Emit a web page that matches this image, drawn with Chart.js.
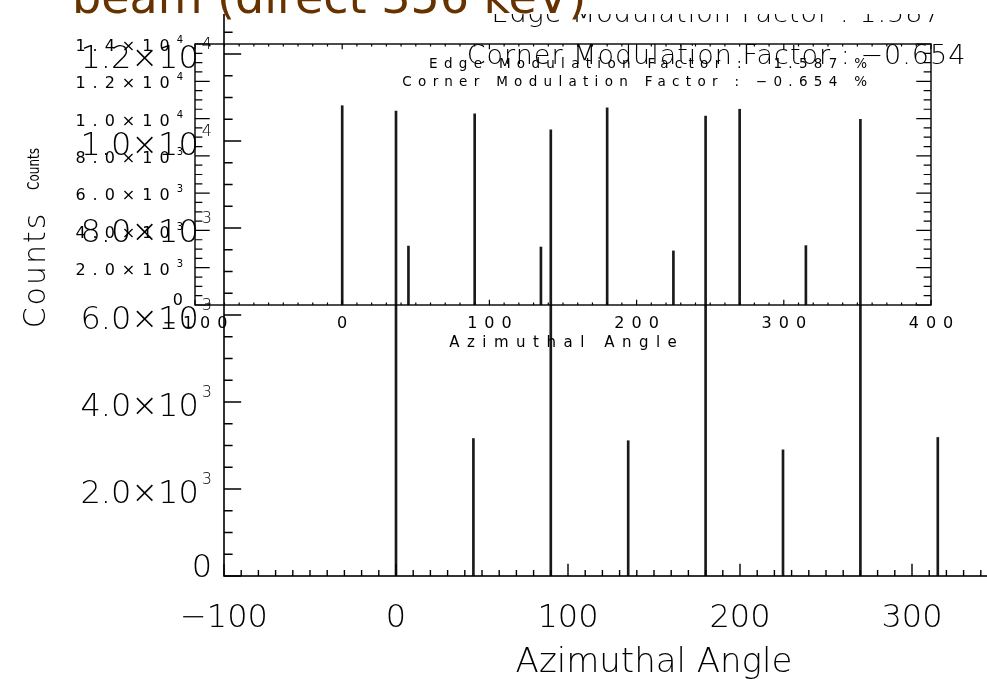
<!DOCTYPE html>
<html>
<head>
<meta charset="utf-8">
<script src="https://cdn.jsdelivr.net/npm/chart.js@4.4.0/dist/chart.umd.min.js"></script>
<style>
  html, body { margin: 0; padding: 0; background: #fff; }
  #page { position: relative; width: 987px; height: 679px; overflow: hidden; background: #fff; }
  #mainChart { position: absolute; left: 0; top: -100px; }
  #insetChart { position: absolute; left: 0; top: 0; }
</style>
</head>
<body>
<div id="page">
  <canvas id="mainChart" width="1200" height="800"></canvas>
  <canvas id="insetChart" width="987" height="400"></canvas>
</div>
<script>
// histogram peaks (same data in both plots)
const angles = [0, 45, 90, 135, 180, 225, 270, 315];
const counts = [10690, 3160, 10255, 3110, 10575, 2900, 10500, 3185];

const xTicks = [-100, 0, 100, 200, 300, 400];
const xTickLabels = ['−100', '0', '100', '200', '300', '400'];
const yTicks = [0, 2000, 4000, 6000, 8000, 10000, 12000, 14000];
const yTickLabels = ['0', '2.0×10^3', '4.0×10^3', '6.0×10^3', '8.0×10^3', '1.0×10^4', '1.2×10^4', '1.4×10^4'];

const titleText = 'beam (direct 356 keV)';
const edgeLabel = 'Edge Modulation Factor :';
const cornerLabel = 'Corner Modulation Factor :';
const edgeValue = '1.587';
const cornerValue = '−0.654';
const xTitle = 'Azimuthal Angle';
const yTitle = 'Counts';

function fontStr(f, size) {
    return `${f.weight} ${size || f.size}px ${f.family}`;
}

// draws "4.0×10^3" style text, exponent raised and smaller
function drawText(ctx, label, x, y, align, f) {
    const parts = label.split('^');
    const sp = f.spacing || 0;
    ctx.letterSpacing = sp + 'px';
    ctx.font = fontStr(f);
    const mainW = ctx.measureText(parts[0]).width;
    let expW = 0;
    if (parts[1]) {
        ctx.font = fontStr(f, f.expSize);
        expW = f.expGap + ctx.measureText(parts[1]).width;
    }
    const total = mainW + expW - sp;
    let left = x;
    if (align === 'right') left = x - total;
    if (align === 'center') left = x - total / 2;
    ctx.textAlign = 'left';
    ctx.textBaseline = 'alphabetic';
    ctx.font = fontStr(f);
    ctx.fillText(parts[0], left, y);
    if (parts[1]) {
        ctx.font = fontStr(f, f.expSize);
        ctx.fillText(parts[1], left + mainW + f.expGap, y - f.expRise);
    }
}

const idlAxes = {
    id: 'idlAxes',
    afterDatasetsDraw(chart, args, o) {
        const {ctx, chartArea: a} = chart;
        const x = chart.scales.x, y = chart.scales.y;
        const w = a.right - a.left, h = a.bottom - a.top;
        ctx.save();
        ctx.strokeStyle = '#000';
        ctx.lineWidth = o.lineWidth;
        ctx.strokeRect(a.left, a.top, w, h);

        ctx.beginPath();
        const xLen = 0.02 * h, yLen = 0.02 * w;
        for (let v = x.min; v <= x.max; v += o.xMinor) {
            const px = x.getPixelForValue(v);
            const len = xTicks.includes(v) ? xLen : xLen / 2;
            ctx.moveTo(px, a.bottom); ctx.lineTo(px, a.bottom - len);
            ctx.moveTo(px, a.top); ctx.lineTo(px, a.top + len);
        }
        for (let v = y.min; v <= y.max; v += o.yMinor) {
            const py = y.getPixelForValue(v);
            const len = yTicks.includes(v) ? yLen : yLen / 2;
            ctx.moveTo(a.left, py); ctx.lineTo(a.left + len, py);
            ctx.moveTo(a.right, py); ctx.lineTo(a.right - len, py);
        }
        ctx.lineWidth = o.tickWidth;
        ctx.stroke();

        ctx.fillStyle = o.color;
        const f = o.font;
        xTicks.forEach((v, i) => {
            drawText(ctx, xTickLabels[i], x.getPixelForValue(v), a.bottom + o.xLabelDrop, 'center', f);
        });
        yTicks.forEach((v, i) => {
            const lab = yTickLabels[i];
            const shift = lab.includes('^') ? 0.45 * f.size : 0.03 * f.size;
            drawText(ctx, lab, a.left - o.yLabelGap, y.getPixelForValue(v) + shift, 'right', f);
        });

        drawText(ctx, xTitle, (a.left + a.right) / 2, a.bottom + o.xTitleDrop, 'center', o.xTitleFont);

        ctx.save();
        ctx.translate(o.yTitleX, o.yTitleY);
        ctx.rotate(-Math.PI / 2);
        ctx.scale(o.yTitleFont.scaleX || 1, 1);
        drawText(ctx, yTitle, 0, 0, 'center', o.yTitleFont);
        ctx.restore();

        (o.notes || []).forEach(n => {
            drawText(ctx, n.text, a.left + n.dx, a.top + n.dy, n.align, o.noteFont);
        });
        ctx.restore();
    }
};

// slide title box, drawn over everything
const slideTitle = {
    id: 'slideTitle',
    afterDraw(chart, args, o) {
        const ctx = chart.ctx;
        ctx.save();
        ctx.fillStyle = '#fff';
        ctx.fillRect(0, 0, chart.width, o.boxBottom);
        ctx.fillStyle = o.color;
        drawText(ctx, o.text, o.x, o.y, 'left', o.font);
        ctx.restore();
    }
};

const thin = "'DejaVu Sans'";
const histData = angles.map((v, i) => ({x: v, y: counts[i]}));

function baseOptions(padding) {
    return {
        responsive: false,
        animation: false,
        devicePixelRatio: 1,
        layout: {padding: padding},
        scales: {
            x: {type: 'linear', min: -100, max: 400, offset: false, display: false},
            y: {type: 'linear', min: 0, max: 14000, display: false}
        },
        plugins: {legend: {display: false}, tooltip: {enabled: false}}
    };
}

// big plot (partly outside the window)
const mainOpts = baseOptions({left: 224, right: 116, top: 67, bottom: 124});
mainOpts.plugins.idlAxes = {
    lineWidth: 1.6, tickWidth: 1.4, color: '#000',
    xMinor: 10, yMinor: 500,
    font: {family: thin, weight: 200, size: 32, spacing: 0, expSize: 16, expGap: 3, expRise: 19},
    xLabelDrop: 51, yLabelGap: 12, xTitleDrop: 96,
    xTitleFont: {family: thin, weight: 200, size: 34, spacing: 0},
    yTitleFont: {family: thin, weight: 200, size: 30, spacing: 2},
    yTitleX: 45, yTitleY: 371,
    noteFont: {family: thin, weight: 200, size: 27, spacing: 1},
    notes: [
        {text: edgeLabel + ' ' + edgeValue, dx: 492, dy: 55, align: 'center'},
        {text: cornerLabel + ' ' + cornerValue, dx: 492, dy: 97, align: 'center'}
    ]
};
new Chart(document.getElementById('mainChart'), {
    type: 'bar',
    data: {datasets: [{data: histData, backgroundColor: '#1a1a1a', borderWidth: 0, barThickness: 2}]},
    options: mainOpts,
    plugins: [idlAxes]
});

// small plot on top
const insetOpts = baseOptions({left: 195, right: 56, top: 44, bottom: 95});
insetOpts.plugins.idlAxes = {
    lineWidth: 1.4, tickWidth: 1.2, color: '#000',
    xMinor: 10, yMinor: 500,
    font: {family: thin, weight: 'normal', size: 16, spacing: 7, expSize: 10, expGap: 0, expRise: 8},
    xLabelDrop: 23, yLabelGap: 12, xTitleDrop: 42,
    xTitleFont: {family: thin, weight: 'normal', size: 15, spacing: 7.5},
    yTitleFont: {family: thin, weight: 'normal', size: 15, spacing: 0, scaleX: 0.8},
    yTitleX: 39, yTitleY: 169,
    noteFont: {family: thin, weight: 'normal', size: 13.5, spacing: 6.3},
    notes: [
        {text: edgeLabel + ' \u2007' + edgeValue + ' %', dx: 672, dy: 24, align: 'right'},
        {text: cornerLabel + ' ' + cornerValue + ' %', dx: 672, dy: 42, align: 'right'}
    ]
};
insetOpts.plugins.slideTitle = {
    text: titleText, x: 72, y: 13, boxBottom: 14, color: '#663300',
    font: {family: "'DejaVu Sans'", weight: 'normal', size: 46, spacing: 0}
};
new Chart(document.getElementById('insetChart'), {
    type: 'bar',
    data: {datasets: [{data: histData, backgroundColor: '#1a1a1a', borderWidth: 0, barThickness: 2}]},
    options: insetOpts,
    plugins: [idlAxes, slideTitle]
});
</script>
</body>
</html>
